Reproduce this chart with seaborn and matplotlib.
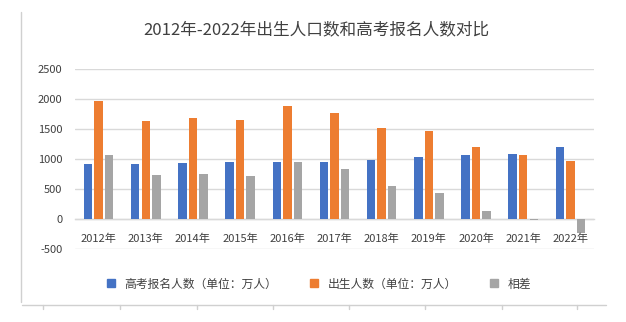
import matplotlib
matplotlib.use("Agg")
import matplotlib.pyplot as plt
from matplotlib.lines import Line2D
import seaborn as sns
import pandas as pd

years = ["2012年", "2013年", "2014年", "2015年", "2016年", "2017年",
         "2018年", "2019年", "2020年", "2021年", "2022年"]
gaokao = [915, 912, 939, 942, 940, 940, 975, 1031, 1071, 1078, 1193]
births = [1973, 1640, 1687, 1655, 1883, 1765, 1523, 1465, 1200, 1062, 956]
diff = [1058, 728, 748, 713, 943, 825, 548, 434, 129, -16, -237]
series = ["高考报名人数（单位：万人）", "出生人数（单位：万人）", "相差"]
colors = ["#4472C4", "#ED7D31", "#A5A5A5"]
yticks = [-500, 0, 500, 1000, 1500, 2000, 2500]

df = pd.DataFrame({
    "year": years * 3,
    "value": gaokao + births + diff,
    "series": [series[0]] * len(years) + [series[1]] * len(years) + [series[2]] * len(years),
})

sns.set_theme(style="white")
plt.rcParams["font.family"] = ["Noto Sans CJK SC", "DejaVu Sans"]

fig = plt.figure(figsize=(6.26, 3.22), dpi=100)
ax = fig.add_axes([75 / 626, 1 - 248.7 / 322, (594 - 75) / 626, (248.7 - 69) / 322])

sns.barplot(data=df, x="year", y="value", hue="series", palette=colors,
            width=0.67, gap=0.2, ax=ax, legend=False, saturation=1,
            edgecolor="none", linewidth=0)

ax.set_ylim(-500, 2500)
ax.set_xlim(-0.5, len(years) - 0.5)
ax.set_yticks(yticks)
ax.set_yticklabels([str(v) for v in yticks])
ax.yaxis.grid(True, color="#D9D9D9", linewidth=1)
ax.set_axisbelow(True)
ax.xaxis.set_zorder(5)
for s in ["top", "right", "left"]:
    ax.spines[s].set_visible(False)
ax.spines["bottom"].set_position(("data", 0))
ax.spines["bottom"].set_color("#D9D9D9")
ax.spines["bottom"].set_linewidth(1)
ax.spines["bottom"].set_zorder(0.6)
ax.tick_params(axis="x", length=0, pad=11, labelsize=8, labelcolor="#404040")
ax.tick_params(axis="y", length=0, pad=9, labelsize=8, labelcolor="#404040")
ax.set_xlabel("")
ax.set_ylabel("")

fig.suptitle("2012年-2022年出生人口数和高考报名人数对比", x=316 / 626, y=1 - 30 / 322,
             va="center", ha="center", fontsize=12, color="#404040")

handles = [Line2D([0], [0], marker="s", linestyle="none", markersize=6,
                  markerfacecolor=c, markeredgecolor=c) for c in colors]
fig.legend(handles, series, loc="center", bbox_to_anchor=(315 / 626, 1 - 284 / 322),
           ncol=3, frameon=False, fontsize=8.5, handletextpad=0.1,
           columnspacing=2.2, labelcolor="#404040")

# spreadsheet frame lines
fig.add_artist(Line2D([21 / 626, 21 / 626], [1 - 12 / 322, 1 - 302 / 322],
                      transform=fig.transFigure, color="#D0D0D0", linewidth=1))
fig.add_artist(Line2D([22 / 626, 606 / 626], [1 - 305 / 322, 1 - 305 / 322],
                      transform=fig.transFigure, color="#D0D0D0", linewidth=1))
for xp in [43, 120, 197, 273, 349, 425, 502, 577]:
    fig.add_artist(Line2D([xp / 626, xp / 626], [1 - 305 / 322, 1 - 309 / 322],
                          transform=fig.transFigure, color="#D0D0D0", linewidth=1))

fig.savefig("out.png", dpi=100)
